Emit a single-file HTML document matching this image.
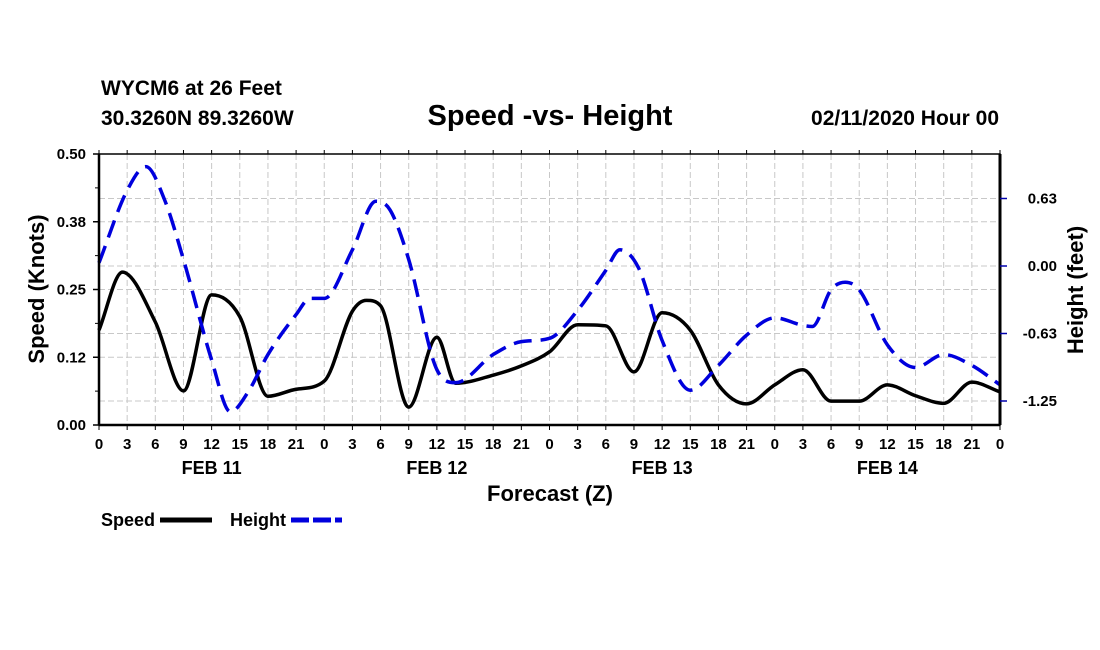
<!DOCTYPE html>
<html><head><meta charset="utf-8"><style>
body{margin:0;background:#fff;}
svg{display:block;font-family:"Liberation Sans",sans-serif;font-weight:bold;}
</style></head><body>
<svg id="chart" width="1100" height="650">
<text x="101" y="95" font-size="21">WYCM6 at 26 Feet</text>
<text x="101" y="125" font-size="21">30.3260N 89.3260W</text>
<text x="550" y="125" font-size="29" text-anchor="middle">Speed -vs- Height</text>
<text x="999" y="125" font-size="21" text-anchor="end">02/11/2020 Hour 00</text>
<g id="grid"></g>
<g id="series"></g>
<g id="axes"></g>
<text x="550" y="501" font-size="22" text-anchor="middle">Forecast (Z)</text>
<text transform="translate(44,289) rotate(-90)" font-size="22" text-anchor="middle">Speed (Knots)</text>
<text transform="translate(1083,290) rotate(-90)" font-size="22" text-anchor="middle">Height (feet)</text>
<g>
<text x="101" y="526" font-size="18">Speed</text>
<line x1="160" y1="520" x2="212" y2="520" stroke="#000" stroke-width="5"/>
<text x="230" y="526" font-size="18">Height</text>
<line x1="291" y1="520" x2="342" y2="520" stroke="#0000dd" stroke-width="5" stroke-dasharray="18 4"/>
</g>
</svg>
<script>
const speedHours=[0,2.5,6,9,12,15,18,21,24,27,28.5,30,33,36,38,42,45,48,51,54,57,60,63,66,69,72,75,78,81,84,87,90,93,96];
const speedValues=[0.175,0.282,0.19,0.063,0.24,0.2,0.053,0.066,0.081,0.21,0.23,0.22,0.033,0.162,0.077,0.092,0.109,0.135,0.185,0.183,0.098,0.207,0.175,0.074,0.039,0.074,0.102,0.044,0.044,0.074,0.054,0.04,0.079,0.061];
const heightHours=[0,3,5,7,9,12,14,16,18,21,22.5,24,27,29.5,31,33,36,38,42,45,48,51,54,55.5,57.5,60,63,66,69,72,75,76,78,79.5,81,84,87,90,93,96];
const heightValues=[0.03,0.70,0.92,0.61,0.06,-0.87,-1.35,-1.15,-0.82,-0.45,-0.30,-0.30,0.15,0.60,0.52,0.06,-0.96,-1.08,-0.82,-0.70,-0.67,-0.41,-0.04,0.15,-0.02,-0.69,-1.15,-0.92,-0.64,-0.48,-0.55,-0.56,-0.22,-0.15,-0.22,-0.73,-0.94,-0.82,-0.92,-1.10];
const xTickLabels=["0","3","6","9","12","15","18","21"];
const dayLabels=["FEB 11","FEB 12","FEB 13","FEB 14"];
const leftTicks=[0,0.125,0.25,0.375,0.5];
const leftTickLabels=["0.00","0.12","0.25","0.38","0.50"];
const rightTicks=[0.625,0,-0.625,-1.25];
const rightTickLabels=["0.63","0.00","-0.63","-1.25"];

const X0=99,X1=1000,Y0=425,Y1=154;
const xs=h=>X0+h/96*(X1-X0);
const ys=v=>Y0-v/0.5*(Y0-Y1);
const yh=h=>266-h*108;
const NS="http://www.w3.org/2000/svg";
function mk(tag,attrs,parent){const e=document.createElementNS(NS,tag);for(const k in attrs)e.setAttribute(k,attrs[k]);parent.appendChild(e);return e;}
const grid=document.getElementById('grid'),axes=document.getElementById('axes'),series=document.getElementById('series');
for(let i=1;i<32;i++){const x=xs(i*3);
 const l=mk('line',{x1:x,x2:x,y1:Y1,y2:Y0,stroke:'#c8c8c8','stroke-width':1,'stroke-dasharray':'6 3'},grid);
 
 }
leftTicks.concat(rightTicks.map(h=>(Y0-yh(h))/(Y0-Y1)*0.5)).forEach(v=>{if(v<=0||v>=0.5)return;const y=ys(v);
 const l=mk('line',{x1:X0,x2:X1,y1:y,y2:y,stroke:'#c8c8c8','stroke-width':1,'stroke-dasharray':'6 3'},grid);
 
 });
function smooth(px){const n=px.length,d=[],m=new Array(n);
 for(let i=0;i<n-1;i++)d.push((px[i+1][1]-px[i][1])/(px[i+1][0]-px[i][0]));
 m[0]=d[0];m[n-1]=d[n-2];
 for(let i=1;i<n-1;i++){m[i]=(d[i-1]*d[i]<=0)?0:(d[i-1]+d[i])/2;}
 for(let i=0;i<n-1;i++){if(d[i]===0){m[i]=0;m[i+1]=0;continue;}const a=m[i]/d[i],b=m[i+1]/d[i],s=a*a+b*b;if(s>9){const t=3/Math.sqrt(s);m[i]=t*a*d[i];m[i+1]=t*b*d[i];}}
 let p='M'+px[0][0]+','+px[0][1];
 for(let i=0;i<n-1;i++){const h=(px[i+1][0]-px[i][0])/3;
  p+=' C'+(px[i][0]+h)+','+(px[i][1]+m[i]*h)+' '+(px[i+1][0]-h)+','+(px[i+1][1]-m[i+1]*h)+' '+px[i+1][0]+','+px[i+1][1];}
 return p;}
const sp=mk('path',{d:smooth(speedHours.map((h,i)=>[xs(h),ys(speedValues[i])])),fill:'none',stroke:'#000','stroke-width':3.5},series);


const hp=mk('path',{d:smooth(heightHours.map((h,i)=>[xs(h),yh(heightValues[i])])),fill:'none',stroke:'#0000dd','stroke-width':3.5,'stroke-dasharray':'18 9'},series);


mk('rect',{x:X0,y:Y1,width:X1-X0,height:Y0-Y1,fill:'none',stroke:'#000','stroke-width':1.5},axes);
mk('line',{x1:X0,x2:X0,y1:Y1,y2:Y0,stroke:'#000','stroke-width':2.5},axes);
mk('line',{x1:X1,x2:X1,y1:Y1,y2:Y0,stroke:'#000','stroke-width':3},axes);
mk('line',{x1:X0,x2:X1,y1:Y0,y2:Y0,stroke:'#000','stroke-width':2.5},axes);
for(let i=0;i<=32;i++){const x=xs(i*3);
 mk('line',{x1:x,x2:x,y1:Y0,y2:Y0+5,stroke:'#000','stroke-width':1},axes);
 mk('line',{x1:x,x2:x,y1:Y1,y2:Y1-4,stroke:'#000','stroke-width':1},axes);
 const t=mk('text',{x:x,y:Y0+24,'font-size':15,'text-anchor':'middle'},axes);t.textContent=i==32?"0":xTickLabels[i%8];
 
 }
dayLabels.forEach((s,i)=>{const t=mk('text',{x:xs(12+24*i),y:Y0+49,'font-size':18,'text-anchor':'middle'},axes);t.textContent=s;
 
 });
leftTicks.forEach((v,i)=>{const y=ys(v);mk('line',{x1:X0-6,x2:X0,y1:y,y2:y,stroke:'#000','stroke-width':1.5},axes);
 const t=mk('text',{x:X0-13,y:y+5,'font-size':15,'text-anchor':'end'},axes);t.textContent=leftTickLabels[i];
 
 });
for(let v=0.0625;v<0.5;v+=0.125){const y=ys(v);mk('line',{x1:X0-4,x2:X0,y1:y,y2:y,stroke:'#000','stroke-width':1},axes);}
rightTicks.forEach((v,i)=>{const y=yh(v);mk('line',{x1:X1,x2:X1+7,y1:y,y2:y,stroke:'#0000aa','stroke-width':1.5},axes);
 const t=mk('text',{x:1057,y:y+5,'font-size':15,'text-anchor':'end'},axes);t.textContent=rightTickLabels[i];
 
 });
</script>
</body></html>
